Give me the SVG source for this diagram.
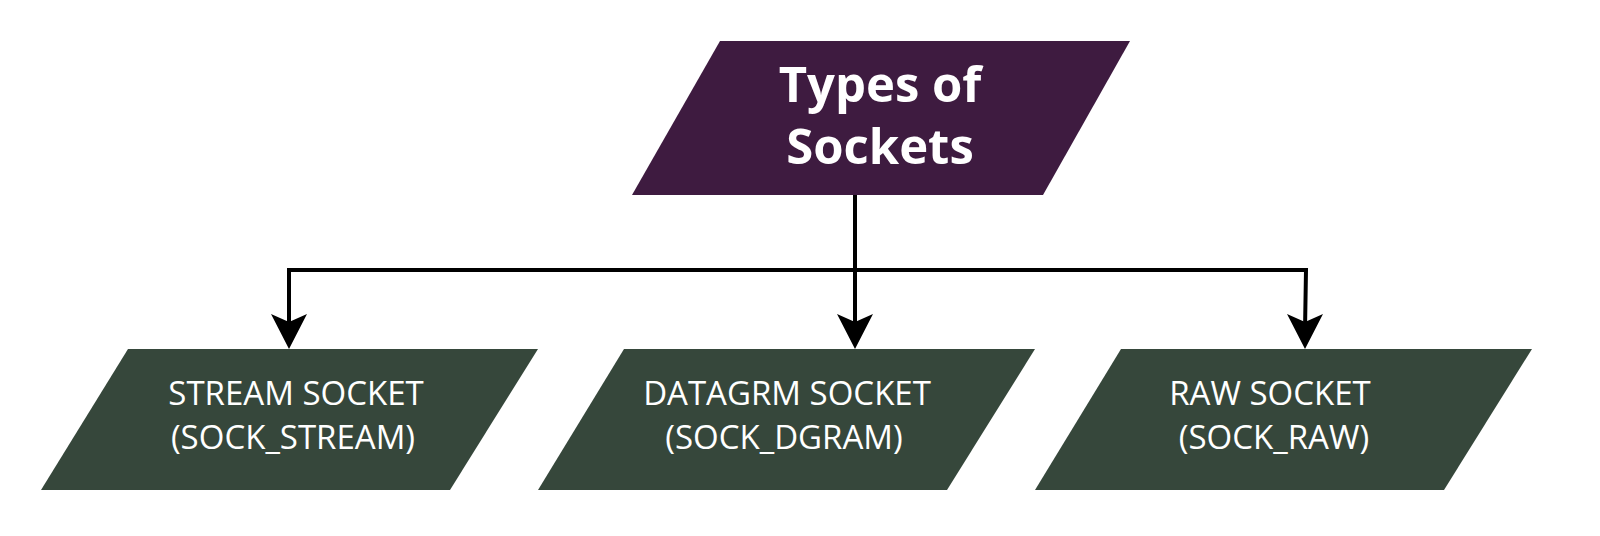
<svg xmlns="http://www.w3.org/2000/svg" width="1600" height="536" viewBox="0 0 1600 536">
<defs>
<style>
.top{fill:#3e1b40}
.box{fill:#36473b}
.t1{font-family:"Open Sans","Liberation Sans",sans-serif;font-weight:bold;font-size:49px;fill:#ffffff;text-anchor:middle}
.t2{font-family:"Open Sans","Liberation Sans",sans-serif;font-size:33px;fill:#ffffff;text-anchor:middle}
.ln{fill:none;stroke:#000;stroke-width:4}
.ah{fill:#000}
</style>
</defs>
<rect width="1600" height="536" fill="#fff"/>
<g id="connectors">
<path class="ln" d="M855,195 L855,330"/>
<path class="ln" d="M289,330 L289,270 L1306,270 L1305,330"/>
<path class="ah" d="M271,314 L289,322 L307,314 L289,349 Z"/>
<path class="ah" d="M837,314 L855,322 L873,314 L855,349 Z"/>
<path class="ah" d="M1287,314 L1305,322 L1323,314 L1305,349 Z"/>
</g>
<g id="types">
<polygon class="top" points="720,41 1130,41 1043,195 632,195"/>
<text class="t1" x="880" y="102">Types of</text>
<text class="t1" x="880" y="164">Sockets</text>
</g>
<g id="stream">
<polygon class="box" points="128,349 538,349 450,490 41,490"/>
<text class="t2" x="296" y="405">STREAM SOCKET</text>
<text class="t2" x="293" y="449">(SOCK_STREAM)</text>
</g>
<g id="dgram">
<polygon class="box" points="624,349 1035,349 947,490 538,490"/>
<text class="t2" x="787" y="405">DATAGRM SOCKET</text>
<text class="t2" x="784" y="449">(SOCK_DGRAM)</text>
</g>
<g id="raw">
<polygon class="box" points="1121,349 1532,349 1444,490 1035,490"/>
<text class="t2" x="1270" y="405">RAW SOCKET</text>
<text class="t2" x="1274" y="449">(SOCK_RAW)</text>
</g>
</svg>
